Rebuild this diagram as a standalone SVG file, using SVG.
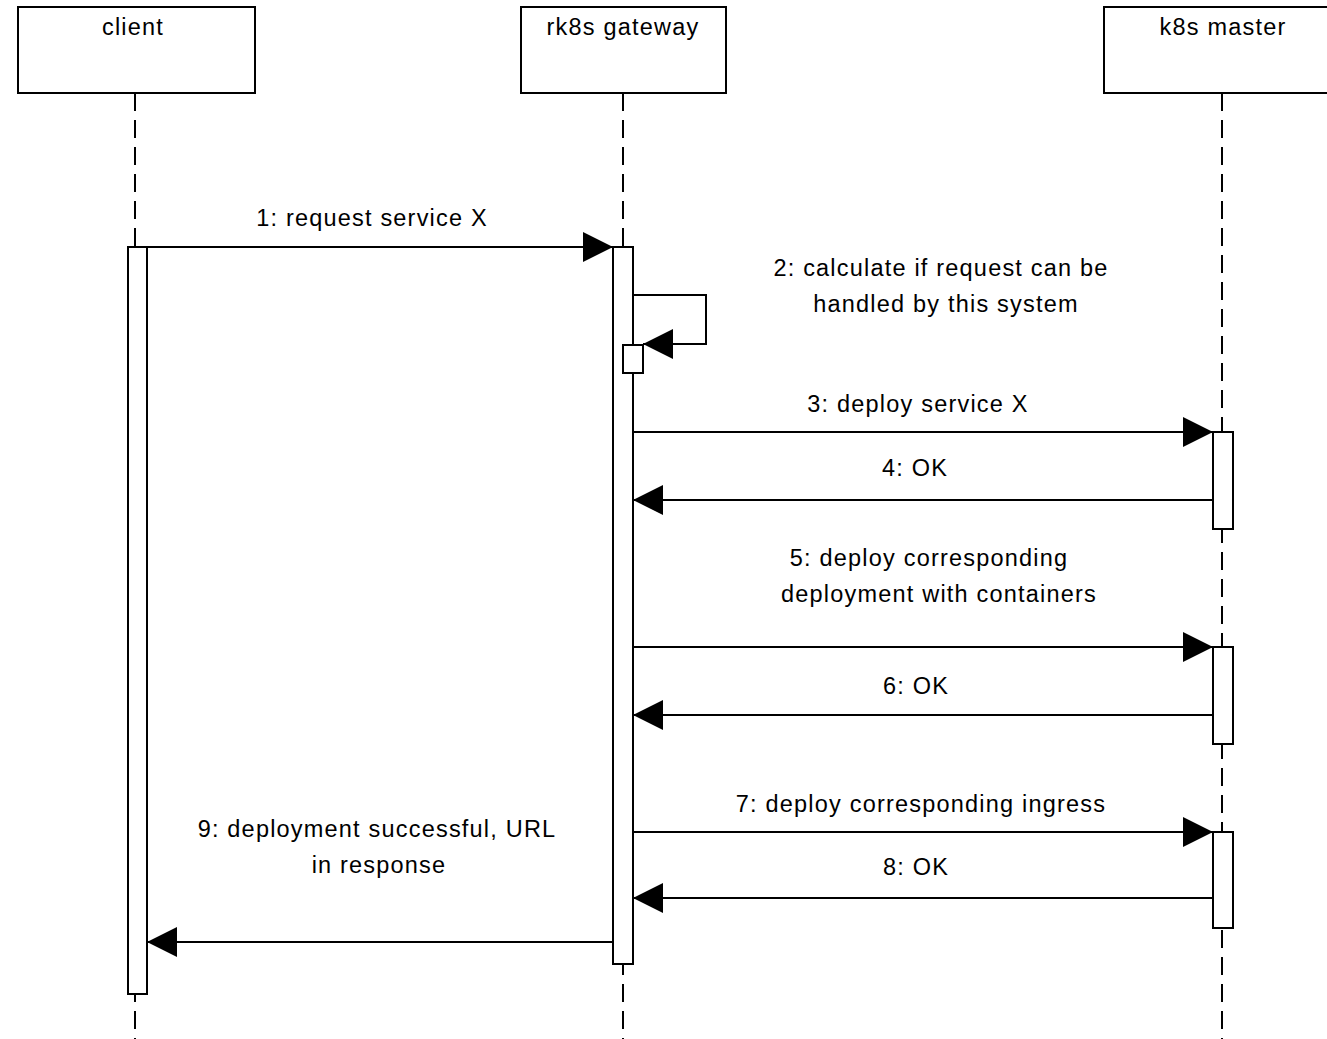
<svg xmlns="http://www.w3.org/2000/svg" width="1327" height="1039" viewBox="0 0 1327 1039">
<style>
.box{fill:#fff;stroke:#000;stroke-width:2}
.life{stroke:#000;stroke-width:2;stroke-dasharray:18 9;fill:none}
.act{fill:#fff;stroke:#000;stroke-width:2}
.msg{stroke:#000;stroke-width:2;fill:none}
text{font-family:"Liberation Sans",Arial,sans-serif;font-size:23.5px;letter-spacing:1.2px;text-anchor:middle;fill:#000}
</style>
<defs>
<marker id="ah" markerUnits="userSpaceOnUse" markerWidth="30" markerHeight="30" refX="30" refY="15" orient="auto" viewBox="0 0 30 30">
<path d="M0,0 L30,15 L0,30 z" fill="#000"/>
</marker>
</defs>
<g id="lifelines">
<line class="life" x1="135" y1="93" x2="135" y2="1039"/>
<line class="life" x1="623" y1="93" x2="623" y2="1039"/>
<line class="life" x1="1222" y1="93" x2="1222" y2="1039"/>
</g>
<g id="client"><rect class="box" x="18" y="7" width="237" height="86"/><text x="133" y="35">client</text></g>
<g id="gateway"><rect class="box" x="521" y="7" width="205" height="86"/><text x="623" y="35">rk8s gateway</text></g>
<g id="master"><rect class="box" x="1104" y="7" width="236" height="86"/><text x="1223" y="35">k8s master</text></g>
<g id="activations">
<rect class="act" x="128" y="247" width="19" height="747"/>
<rect class="act" x="613" y="247" width="20" height="717"/>
<rect class="act" x="623" y="345" width="20" height="28"/>
<rect class="act" x="1213" y="432" width="20" height="97"/>
<rect class="act" x="1213" y="647" width="20" height="97"/>
<rect class="act" x="1213" y="832" width="20" height="96"/>
</g>
<g id="connectors">
<line class="msg" x1="147" y1="247" x2="613" y2="247" marker-end="url(#ah)"/>
<polyline class="msg" points="633,295 706,295 706,344 643,344" marker-end="url(#ah)"/>
<line class="msg" x1="633" y1="432" x2="1213" y2="432" marker-end="url(#ah)"/>
<line class="msg" x1="1213" y1="500" x2="633" y2="500" marker-end="url(#ah)"/>
<line class="msg" x1="633" y1="647" x2="1213" y2="647" marker-end="url(#ah)"/>
<line class="msg" x1="1213" y1="715" x2="633" y2="715" marker-end="url(#ah)"/>
<line class="msg" x1="633" y1="832" x2="1213" y2="832" marker-end="url(#ah)"/>
<line class="msg" x1="1213" y1="898" x2="633" y2="898" marker-end="url(#ah)"/>
<line class="msg" x1="613" y1="942" x2="147" y2="942" marker-end="url(#ah)"/>
</g>
<g id="labels">
<text x="372" y="226">1: request service X</text>
<text x="941" y="276">2: calculate if request can be</text>
<text x="946" y="312">handled by this system</text>
<text x="918" y="412">3: deploy service X</text>
<text x="915" y="476">4: OK</text>
<text x="929" y="566">5: deploy corresponding</text>
<text x="939" y="602">deployment with containers</text>
<text x="916" y="694">6: OK</text>
<text x="921" y="812">7: deploy corresponding ingress</text>
<text x="916" y="875">8: OK</text>
<text x="377" y="837">9: deployment successful, URL</text>
<text x="379" y="873">in response</text>
</g>
</svg>
